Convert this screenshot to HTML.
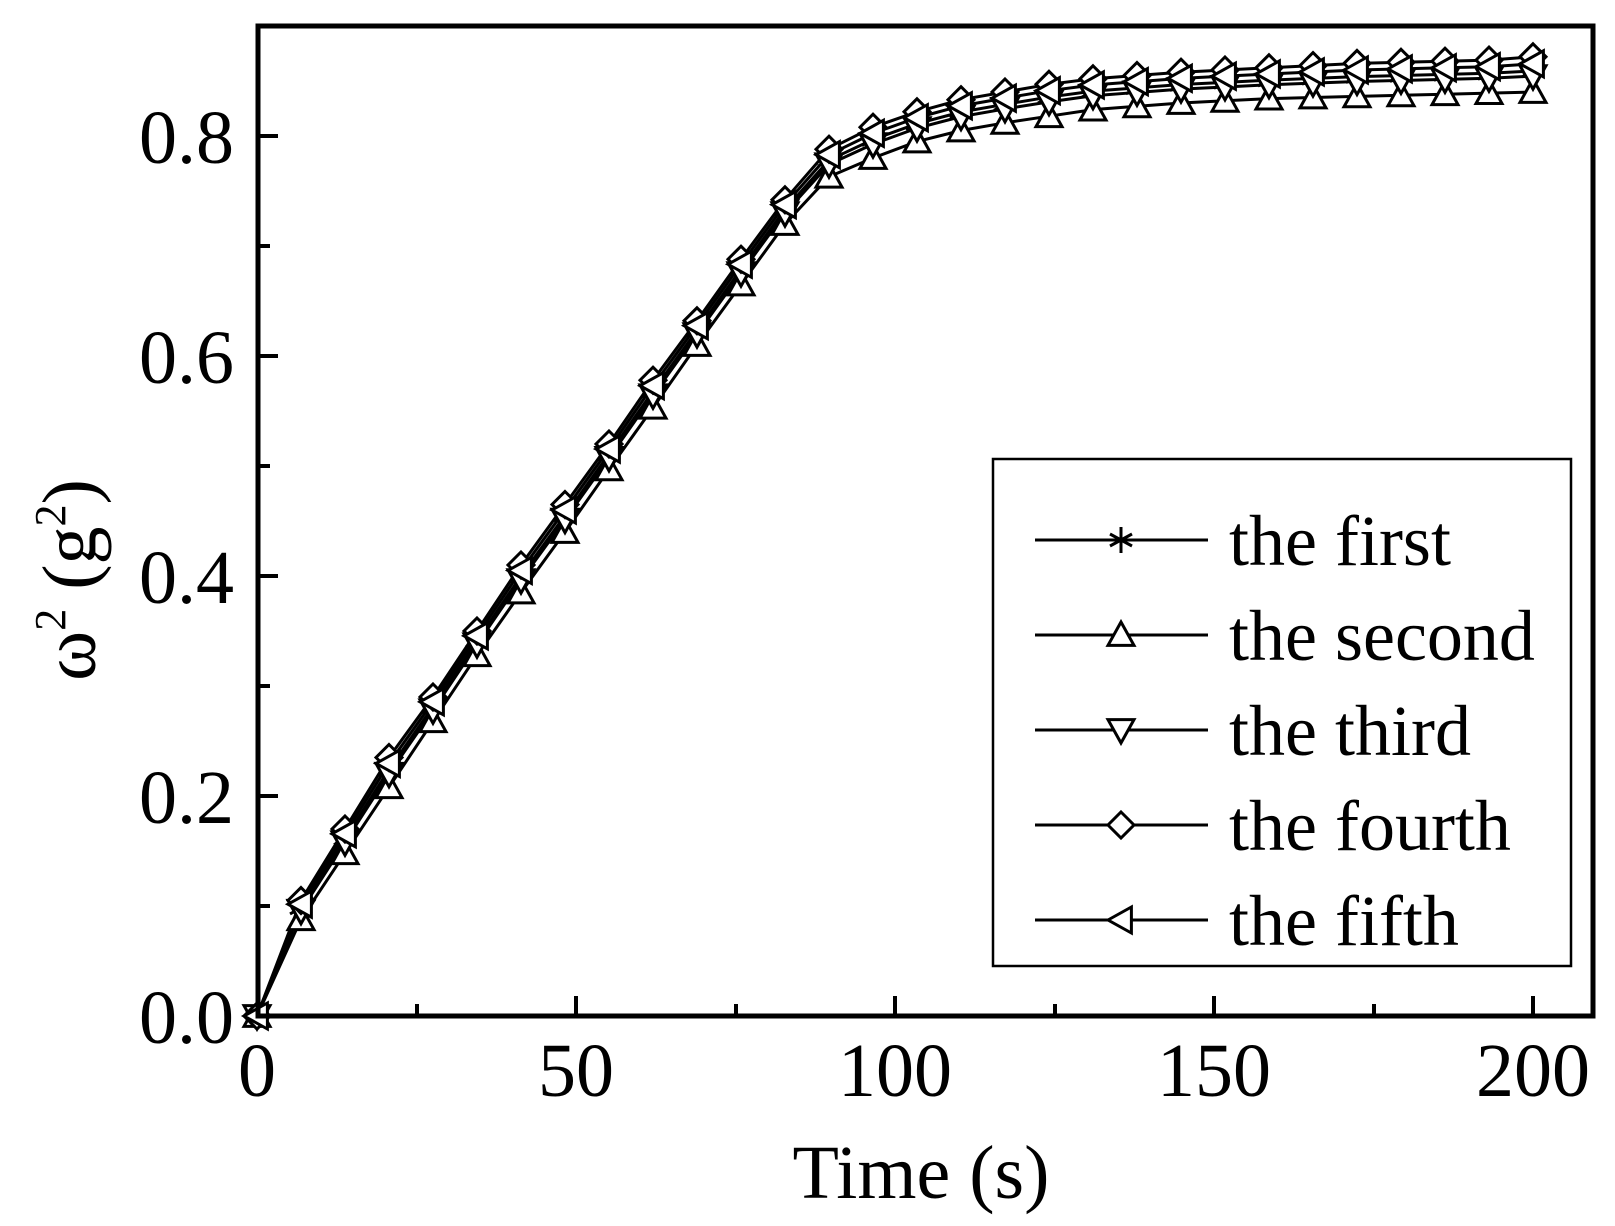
<!DOCTYPE html>
<html><head><meta charset="utf-8"><style>
html,body{margin:0;padding:0;background:#fff;}
svg{display:block;}
text{font-family:"Liberation Serif",serif;fill:#000;}
</style></head><body>
<svg id="s" width="1615" height="1226" viewBox="0 0 1615 1226" xmlns="http://www.w3.org/2000/svg">
<rect width="1615" height="1226" fill="#fff"/>
<g id="plot"></g>
<rect x="258" y="26" width="1335" height="990" fill="none" stroke="#000" stroke-width="5"/>
<g stroke="#000" stroke-width="4">
<line x1="258" y1="796" x2="278" y2="796"/><line x1="258" y1="576" x2="278" y2="576"/><line x1="258" y1="356" x2="278" y2="356"/><line x1="258" y1="136" x2="278" y2="136"/>
<line x1="258" y1="906" x2="270" y2="906"/><line x1="258" y1="686" x2="270" y2="686"/><line x1="258" y1="466" x2="270" y2="466"/><line x1="258" y1="246" x2="270" y2="246"/>
<line x1="576" y1="1016" x2="576" y2="996"/><line x1="895" y1="1016" x2="895" y2="996"/><line x1="1214" y1="1016" x2="1214" y2="996"/><line x1="1533" y1="1016" x2="1533" y2="996"/>
<line x1="417" y1="1016" x2="417" y2="1004"/><line x1="736" y1="1016" x2="736" y2="1004"/><line x1="1055" y1="1016" x2="1055" y2="1004"/><line x1="1374" y1="1016" x2="1374" y2="1004"/>
</g>
<g font-size="76" text-anchor="end">
<text x="234" y="1043">0.0</text><text x="234" y="823">0.2</text><text x="234" y="603">0.4</text><text x="234" y="383">0.6</text><text x="234" y="163">0.8</text>
</g>
<g font-size="76" text-anchor="middle">
<text x="257" y="1096">0</text><text x="576" y="1096">50</text><text x="895" y="1096">100</text><text x="1214" y="1096">150</text><text x="1533" y="1096">200</text>
</g>
<text x="921" y="1198" font-size="76" text-anchor="middle">Time (s)</text>
<text transform="translate(95,580) rotate(-90)" font-size="76" text-anchor="middle">ω<tspan dy="-30" font-size="44">2</tspan><tspan dy="30"> (g</tspan><tspan dy="-30" font-size="44">2</tspan><tspan dy="30">)</tspan></text>
<rect x="993" y="459" width="578" height="507" fill="#fff" stroke="#000" stroke-width="2.5"/>
<g id="leg"></g>
<g font-size="72">
<text x="1229" y="565">the first</text><text x="1229" y="660">the second</text><text x="1229" y="755">the third</text><text x="1229" y="850">the fourth</text><text x="1229" y="945">the fifth</text>
</g>
</svg>
<script>
var NS="http://www.w3.org/2000/svg";
function X(t){return 257+t*6.38;}function Y(v){return 1016-v*1100;}
var top4=[0,0.105,0.17,0.235,0.29,0.35,0.41,0.465,0.52,0.578,0.632,0.688,0.742,0.788,0.808,0.822,0.833,0.84,0.847,0.852,0.855,0.858,0.86,0.862,0.864,0.866,0.867,0.868,0.869,0.872];
var low2=[0,0.088,0.148,0.208,0.268,0.328,0.385,0.44,0.497,0.553,0.61,0.665,0.72,0.763,0.78,0.795,0.805,0.812,0.818,0.824,0.827,0.83,0.832,0.834,0.835,0.836,0.837,0.838,0.839,0.84];
function mix(a){return top4.map(function(v,i){return i==0?0:v*(1-a)+low2[i]*a;});}
var series=[[mix(0.4),'star'],[low2,'up'],[mix(0.55),'down'],[top4,'dia'],[mix(0.2),'left']];
var g=document.getElementById('plot');
function mk(type,x,y,par){var s=13,e;
 if(type=='star'){e=document.createElementNS(NS,'path');e.setAttribute('d','M'+x+' '+(y-s)+'V'+(y+s)+'M'+(x-11)+' '+(y-6)+'L'+(x+11)+' '+(y+6)+'M'+(x-11)+' '+(y+6)+'L'+(x+11)+' '+(y-6));}
 else{var p;if(type=='up')p=[[x,y-s],[x+s,y+s*0.8],[x-s,y+s*0.8]];
 else if(type=='down')p=[[x,y+s],[x+s,y-s*0.8],[x-s,y-s*0.8]];
 else if(type=='dia')p=[[x,y-s],[x+s,y],[x,y+s],[x-s,y]];
 else p=[[x-s,y],[x+s*0.8,y-s],[x+s*0.8,y+s]];
 e=document.createElementNS(NS,'polygon');e.setAttribute('points',p.map(function(q){return q.join(',')}).join(' '));e.setAttribute('fill','#fff');}
 e.setAttribute('stroke','#000');e.setAttribute('stroke-width','3');e.setAttribute('fill',type=='star'?'none':'#fff');par.appendChild(e);}
series.forEach(function(s){var pts=s[0].map(function(v,i){return X(i*200/29)+','+Y(v);}).join(' ');
 var l=document.createElementNS(NS,'polyline');l.setAttribute('points',pts);l.setAttribute('fill','none');l.setAttribute('stroke','#000');l.setAttribute('stroke-width','3');g.appendChild(l);});
series.forEach(function(s){s[0].forEach(function(v,i){mk(s[1],X(i*200/29),Y(v),g);});});
var lg=document.getElementById('leg');
series.forEach(function(s,i){var y=540+i*95;var l=document.createElementNS(NS,'line');l.setAttribute('x1',1035);l.setAttribute('x2',1208);l.setAttribute('y1',y);l.setAttribute('y2',y);l.setAttribute('stroke','#000');l.setAttribute('stroke-width','3');lg.appendChild(l);mk(s[1],1121,y,lg);});
</script>
</body></html>
